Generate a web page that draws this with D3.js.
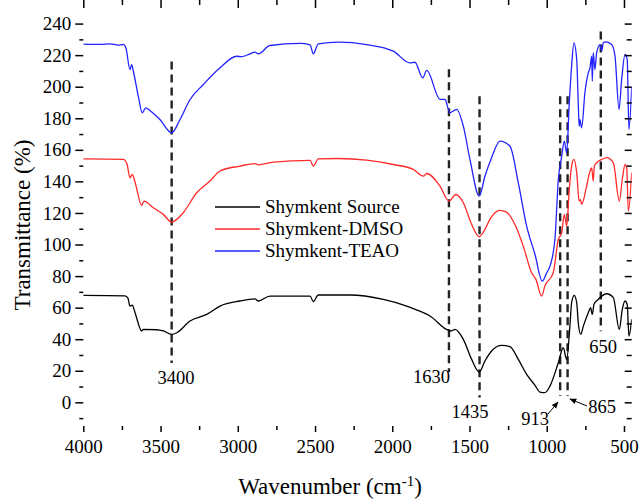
<!DOCTYPE html>
<html>
<head>
<meta charset="utf-8">
<script src="https://cdn.jsdelivr.net/npm/d3@7/dist/d3.min.js"></script>
<style>
  body { margin: 0; background: #fff; }
</style>
</head>
<body>
<div id="chart"></div>
<script>
// spectra, [wavenumber, transmittance]
var sourceData = [
  [4000, 67.8], [3730, 67.5], [3711, 66], [3698, 61], [3683, 61.5], [3665, 56.8],
  [3622, 45.2], [3612, 46.2], [3525, 46.0], [3482, 45.2], [3428, 43.1], [3395, 44.1],
  [3309, 51.5], [3201, 55.7], [3115, 61], [2986, 64.2], [2889, 65.5], [2867, 64.2],
  [2792, 67.3], [2532, 67.3], [2511, 63.8], [2479, 68], [2274, 68], [2058, 65.2],
  [1907, 61], [1799, 56.8], [1756, 54.7], [1648, 46.2], [1622, 45.2], [1594, 46.2],
  [1540, 39.9], [1486, 27.2], [1437, 19.2], [1400, 26.2], [1357, 32.5], [1292, 36.1],
  [1238, 35.3], [1184, 27.2], [1130, 17.7], [1076, 10.8], [1044, 6.5], [1012, 6.1],
  [979, 10.3], [925, 25.1], [893, 34.6], [871, 27.2], [850, 48.3], [839, 63.1],
  [822, 67.8], [806, 63.1], [796, 50.5], [780, 43.1], [763, 48.3], [731, 56.8],
  [716, 60], [705, 55.7], [694, 62.1], [667, 65.2], [644, 67.3], [612, 68.8],
  [569, 66.3], [530, 46.2], [511, 58.9], [493, 64.2], [479, 62], [468, 42], [450, 52.6]
];

var dmsoData = [
  [4000, 154.3], [3741, 154], [3717, 151], [3698, 142.3], [3683, 144.4], [3665, 139.5],
  [3622, 124.8], [3607, 127.5], [3547, 123.3], [3482, 119.1], [3428, 114.2], [3353, 120.1],
  [3266, 132.8], [3180, 140.2], [3115, 146.6], [2986, 149.7], [2889, 151.3], [2867, 150.5],
  [2770, 152.2], [2532, 153.3], [2511, 149.7], [2479, 154.3], [2350, 154.5], [2166, 153.5],
  [1993, 150.7], [1864, 147.6], [1799, 143.3], [1777, 145], [1691, 137], [1633, 127.5],
  [1588, 131.7], [1540, 126.5], [1486, 112.7], [1437, 104.9], [1400, 109.6], [1368, 115.9],
  [1303, 121.6], [1260, 120.5], [1206, 112.7], [1152, 99], [1098, 82.1], [1070, 77.9],
  [1033, 67.3], [1012, 73.7], [958, 82.1], [925, 103.2], [903, 107.5], [886, 119.1],
  [871, 111.7], [854, 134.9], [839, 149.7], [824, 153.9], [806, 145.5], [790, 127.5],
  [781, 128.5], [774, 125.4], [742, 137], [720, 146.5], [709, 148.5], [699, 140.2],
  [692, 149.7], [677, 151.8], [644, 153.9], [612, 155], [569, 151.8], [530, 127.5],
  [511, 141.2], [493, 150.7], [482, 148.5], [472, 121.1], [450, 145.5]
];

var teaoData = [
  [4000, 227.0], [3892, 226.8], [3827, 227.2], [3775, 226.3], [3741, 226.8], [3724, 224.5],
  [3698, 210.8], [3687, 214], [3676, 209.8], [3644, 194], [3618, 183.5], [3596, 186.6],
  [3557, 183.9], [3504, 179.2], [3428, 170.8], [3374, 179.2], [3309, 191.9], [3223, 201.4],
  [3115, 212], [3007, 219.3], [2975, 219.0], [2921, 220.8], [2889, 221.9], [2867, 220.8],
  [2792, 226.1], [2597, 227.4], [2532, 226.5], [2511, 220.8], [2479, 227.2], [2350, 228.2],
  [2166, 226.7], [1993, 222.5], [1885, 215.1], [1853, 215.5], [1803, 205.6], [1777, 210.3],
  [1691, 192], [1659, 191.9], [1627, 183.5], [1583, 185.6], [1540, 175], [1497, 153.9],
  [1437, 130.7], [1400, 143.3], [1357, 155], [1303, 165.5], [1238, 162.3], [1184, 139.1],
  [1130, 111.7], [1076, 93.7], [1029, 76.8], [1000, 82.1], [979, 86.3], [947, 103.2],
  [925, 141.2], [903, 156], [886, 165.5], [871, 158.1], [854, 189.8], [839, 213],
  [824, 227.8], [806, 217.2], [796, 189.8], [790, 175], [785, 179.2], [774, 174],
  [753, 196.1], [731, 208.8], [720, 212], [709, 219.3], [705, 203.5], [699, 221.5],
  [688, 210.9], [677, 221.5], [655, 226.7], [644, 222.5], [634, 227.8], [617, 228.4],
  [580, 226.7], [558, 219.3], [532, 185.6], [515, 204.6], [493, 220.4], [479, 217.2],
  [468, 172.9], [450, 200]
];

var seriesNames = ["Shymkent Source", "Shymkent-DMSO", "Shymkent-TEAO"];
var seriesColors = ["#000000", "#ff2a2a", "#2323ff"];

// dashed marker lines: where drawn, what label says, vertical span
var peakPos = [3428, 1633, 1435, 913, 865, 650];
var peakLabel = ["3400", "1630", "1435", "913", "865", "650"];
var peakTop = [216, 211, 194, 194, 194, 235];
var peakBottom = [25, 19, 3, 4, 4, 45];

var xTicks = [4000, 3500, 3000, 2500, 2000, 1500, 1000, 500];
var yTicks = d3.range(0, 241, 20);

var FONT = "'Liberation Serif'";

var W = 641, H = 500;
var svg = d3.select("#chart").append("svg").attr("width", W).attr("height", H);

var x = d3.scaleLinear().domain([4000, 450]).range([83.3, 631.7]);
var y = d3.scaleLinear().domain([-15, 241]).range([426, 22]);

svg.append("clipPath").attr("id", "clip")
  .append("rect")
  .attr("x", x.range()[0]).attr("y", y.range()[1])
  .attr("width", x.range()[1] - x.range()[0])
  .attr("height", y.range()[0] - y.range()[1]);

// dashed lines
svg.selectAll("line.peak")
  .data(peakPos)
  .enter()
  .append("line")
  .attr("class", "peak")
  .attr("x1", function (d) { return x(d); })
  .attr("x2", function (d) { return x(d); })
  .attr("y1", function (d, i) { return y(peakTop[i]); })
  .attr("y2", function (d, i) { return y(peakBottom[i]); })
  .attr("stroke", "#222")
  .attr("stroke-width", 2.4)
  .attr("stroke-dasharray", "8,5");

// spectra
var line = d3.line()
  .x(function (d) { return x(d[0]); })
  .y(function (d) { return y(d[1]); })
  .curve(d3.curveMonotoneX);

var allSeries = [sourceData, dmsoData, teaoData];
svg.append("g").attr("clip-path", "url(#clip)")
  .selectAll("path")
  .data(allSeries)
  .enter()
  .append("path")
  .attr("d", line)
  .attr("fill", "none")
  .attr("stroke", function (d, i) { return seriesColors[i]; })
  .attr("stroke-width", 1.3);

// axes
var minorX = d3.range(3750, 450, -500);
var minorY = d3.range(-10, 241, 20);

function styleAxis(g) {
  g.select(".domain").remove();
  g.selectAll("line").attr("stroke", "#000").attr("stroke-width", 1.5);
  g.selectAll("text")
    .style("font-family", FONT)
    .style("font-size", "19px")
    .attr("fill", "#000");
}

var bottom = y.range()[0], top = y.range()[1], left = x.range()[0], right = x.range()[1];

svg.append("g").attr("transform", "translate(0," + bottom + ")")
  .call(d3.axisBottom(x).tickValues(xTicks).tickSize(6).tickPadding(8).tickFormat(d3.format("d")))
  .call(styleAxis);
svg.append("g").attr("transform", "translate(0," + bottom + ")")
  .call(d3.axisBottom(x).tickValues(minorX).tickSize(4).tickFormat(""))
  .call(styleAxis);
svg.append("g").attr("transform", "translate(0," + top + ")")
  .call(d3.axisTop(x).tickValues(xTicks).tickSize(-8).tickFormat(""))
  .call(styleAxis);
svg.append("g").attr("transform", "translate(0," + top + ")")
  .call(d3.axisTop(x).tickValues(minorX).tickSize(-5).tickFormat(""))
  .call(styleAxis);

svg.append("g").attr("transform", "translate(" + left + ",0)")
  .call(d3.axisLeft(y).tickValues(yTicks).tickSize(8).tickPadding(4))
  .call(styleAxis);
svg.append("g").attr("transform", "translate(" + left + ",0)")
  .call(d3.axisLeft(y).tickValues(minorY).tickSize(4).tickFormat(""))
  .call(styleAxis);
svg.append("g").attr("transform", "translate(" + right + ",0)")
  .call(d3.axisRight(y).tickValues(yTicks).tickSize(-7).tickFormat(""))
  .call(styleAxis);
svg.append("g").attr("transform", "translate(" + right + ",0)")
  .call(d3.axisRight(y).tickValues(minorY).tickSize(-5).tickFormat(""))
  .call(styleAxis);

// frame
svg.append("rect")
  .attr("x", left).attr("y", top)
  .attr("width", right - left).attr("height", bottom - top)
  .attr("fill", "none").attr("stroke", "#000").attr("stroke-width", 1.8);

// axis titles
var xTitle = svg.append("text")
  .attr("x", 330).attr("y", 494)
  .attr("text-anchor", "middle")
  .style("font-family", FONT)
  .style("font-size", "23px");
xTitle.append("tspan").text("Wavenumber (cm");
xTitle.append("tspan").attr("dy", -8).style("font-size", "15px").text("-1");
xTitle.append("tspan").attr("dy", 8).text(")");

svg.append("text")
  .attr("transform", "translate(30,225) rotate(-90)")
  .attr("text-anchor", "middle")
  .style("font-family", FONT)
  .style("font-size", "23px")
  .text("Transmittance (%)");

// peak labels
var labelX = [176, 450, 470, 535, 602, 603];
var labelY = [384, 383, 418, 425, 413, 353];
var labelAnchor = ["middle", "end", "middle", "middle", "middle", "middle"];
svg.selectAll("text.peakLabel")
  .data(peakLabel)
  .enter()
  .append("text")
  .attr("class", "peakLabel")
  .attr("x", function (d, i) { return labelX[i]; })
  .attr("y", function (d, i) { return labelY[i]; })
  .attr("text-anchor", function (d, i) { return labelAnchor[i]; })
  .style("font-family", FONT)
  .style("font-size", "18.5px")
  .text(function (d) { return d; });

// arrows for 913 and 865
svg.append("defs").append("marker")
  .attr("id", "arrow")
  .attr("viewBox", "0 0 10 10")
  .attr("refX", 9).attr("refY", 5)
  .attr("markerWidth", 7).attr("markerHeight", 7)
  .attr("orient", "auto")
  .append("path").attr("d", "M0,1 L10,5 L0,9 z").attr("fill", "#000");

var arrows = [[548, 414, 558, 402], [587, 406, 570, 399]];
svg.selectAll("line.arrow")
  .data(arrows)
  .enter()
  .append("line")
  .attr("class", "arrow")
  .attr("x1", function (d) { return d[0]; })
  .attr("y1", function (d) { return d[1]; })
  .attr("x2", function (d) { return d[2]; })
  .attr("y2", function (d) { return d[3]; })
  .attr("stroke", "#000")
  .attr("stroke-width", 1)
  .attr("marker-end", "url(#arrow)");

// legend
var legend = svg.append("g").attr("transform", "translate(215,207)");
seriesNames.forEach(function (name, i) {
  var row = legend.append("g").attr("transform", "translate(0," + (i * 22) + ")");
  row.append("line")
    .attr("x1", 0).attr("x2", 45)
    .attr("stroke", seriesColors[i]).attr("stroke-width", 1.3);
  row.append("text")
    .attr("x", 50).attr("y", 6)
    .style("font-family", FONT)
    .style("font-size", "19px")
    .text(name);
});
</script>
</body>
</html>
